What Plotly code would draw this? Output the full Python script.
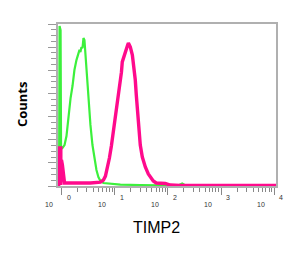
import plotly.graph_objects as go

# Green histogram (fluorescence intensity, counts)
green_x = [0.90, 0.92, 0.96, 0.98, 1.04, 1.14, 1.24, 1.35, 1.48, 1.61, 1.75, 1.91, 2.08, 2.18,
           2.27, 2.37, 2.48, 2.59, 2.70, 2.82, 2.94, 3.08, 3.21, 3.35, 3.50, 3.82, 4.16, 4.54,
           4.94, 5.40, 6.14, 8.30, 12.8, 30.3, 71.9, 157, 186, 214, 407]
green_y = [0, 691, 674, 168, 164, 177, 216, 307, 380, 432, 501, 544, 570, 588,
           579, 600, 596, 639, 631, 566, 536, 458, 402, 337, 264, 177, 112, 69,
           39, 22, 13, 9, 6, 4, 2, 2, 11, 2, 0]

# Magenta histogram (TIMP2 stained)
pink_x = [0.88, 0.88, 0.97, 0.97, 1.0, 1.04, 1.09, 1.14, 1.48, 2.27, 3.50, 5.40, 6.14, 6.70, 7.29,
          7.96, 8.67, 9.46, 10.3, 11.2, 12.2, 13.4, 13.9, 15.2, 15.9, 17.3, 18.1, 19.7,
          21.5, 22.4, 24.4, 25.5, 26.7, 27.9, 30.3, 33.1, 37.7, 42.9, 46.8, 53.2, 60.5,
          89.3, 111, 171, 11220]
pink_y = [0, 164, 164, 5, 112, 91, 48, 13, 13, 13, 13, 17, 26, 43, 78,
          121, 173, 233, 294, 354, 423, 492, 536, 566, 588, 605, 618, 600,
          566, 536, 458, 393, 320, 264, 177, 125, 82, 52, 39, 22, 13,
          11, 4, 2, 2]

decades = [0, 1, 2, 3, 4]
major_ticks = [1, 10, 100, 1000, 10000]
minor_ticks = [m * 10 ** d for d in range(4) for m in range(2, 10)]

fig = go.Figure()
fig.add_trace(go.Scatter(x=green_x, y=green_y, mode="lines",
                         line=dict(color="#3cf03c", width=2.2), showlegend=False))
fig.add_trace(go.Scatter(x=pink_x, y=pink_y, mode="lines",
                         line=dict(color="#ff0a8c", width=3.4), showlegend=False))

fig.update_xaxes(type="log", range=[-0.066, 4.034], showgrid=False, zeroline=False,
                 showline=True, linecolor="#b0b0b0", linewidth=2, mirror=True,
                 ticks="outside", tickvals=major_ticks, ticklen=7, tickcolor="#888",
                 tickwidth=1, showticklabels=False,
                 minor=dict(tickvals=minor_ticks, ticks="outside", ticklen=4,
                            tickcolor="#888", tickwidth=1))
fig.update_yaxes(range=[0, 700], showgrid=False, zeroline=False,
                 showline=True, linecolor="#b0b0b0", linewidth=2, mirror=True,
                 ticks="outside", dtick=100, tick0=0, ticklen=8, tickcolor="#999",
                 tickwidth=1, showticklabels=False,
                 minor=dict(dtick=25, ticks="outside", ticklen=5,
                            tickcolor="#999", tickwidth=1))

ann = []
for d in decades:
    ann.append(dict(x=d, y=-0.117, xref="x", yref="paper", text="10", showarrow=False,
                    xshift=-13, xanchor="center", yanchor="middle",
                    font=dict(family="Liberation Sans", size=7, color="#333")))
    ann.append(dict(x=d, y=-0.068, xref="x", yref="paper", text=str(d), showarrow=False,
                    xshift=7, xanchor="center", yanchor="middle",
                    font=dict(family="Liberation Sans", size=7, color="#333")))
ann.append(dict(x=-0.165, y=0.506, xref="paper", yref="paper", text="<b>Counts</b>",
                textangle=-90, showarrow=False, xanchor="center", yanchor="middle",
                font=dict(family="Open Sans", size=13, color="black")))
ann.append(dict(x=0.454, y=-0.259, xref="paper", yref="paper", text="TIMP2",
                showarrow=False, xanchor="center", yanchor="middle",
                font=dict(family="Liberation Sans", size=16, color="black")))

fig.update_layout(width=300, height=253, margin=dict(l=58, r=24, t=24, b=67),
                  plot_bgcolor="white", paper_bgcolor="white", annotations=ann)

fig.write_html("out.html")
